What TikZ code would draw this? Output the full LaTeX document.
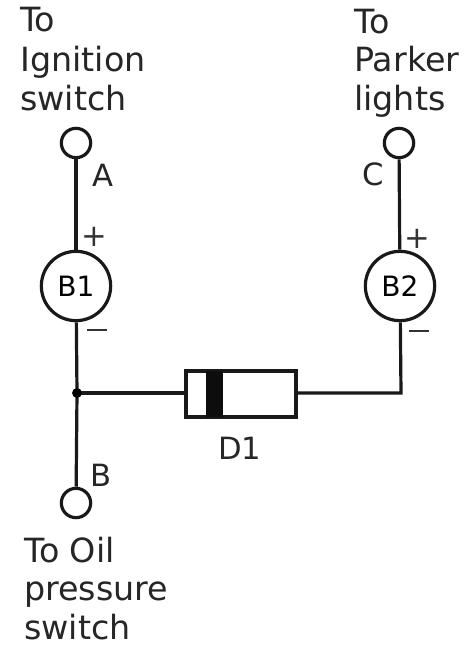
\documentclass[tikz,border=0pt]{standalone}
\usepackage{fontspec}
\setmainfont{DejaVu Sans}
\tikzset{
 wire/.style={line width=2.4pt,black!90},
 term/.style={circle,draw=black!90,line width=2.4pt,fill=white,minimum size=22pt,inner sep=0pt},
 bulb/.style={circle,draw=black!90,line width=2.4pt,fill=white,minimum size=52pt,inner sep=0pt,font=\fontsize{21}{24}\selectfont},
 lab/.style={inner sep=0pt,anchor=base west,text=black!85,font=\fontsize{25}{28}\selectfont},
 tag/.style={inner sep=0pt,anchor=base west,text=black!85,font=\fontsize{23}{26}\selectfont},
 sign/.style={inner sep=0pt,text=black!80,font=\fontsize{23}{25}\selectfont},
}
\begin{document}
\begin{tikzpicture}[x=1pt,y=-1pt]
\useasboundingbox (0,0) rectangle (354.75,483.75);
\begin{scope}[x=0.75pt,y=-0.75pt]
\fill[white] (0,0) rectangle (473,645);
\node[term] (tA) at (76,143) {};
\node[term] (tC) at (399,143) {};
\node[term] (tB) at (76,503) {};
\node[bulb] (B1) at (76,286) {B1};
\node[bulb] (B2) at (400,286) {B2};
\coordinate (J) at (77,393);
\coordinate (K) at (401,393);
\draw[line width=2.4pt,black!90,fill=white] (186,371) rectangle (296,417);
\fill[black!95] (206,371) rectangle (223,417);
\coordinate (DL) at (186,393);
\coordinate (DR) at (296,393);
\draw[wire] (tA) -- (B1);
\draw[wire] (tC) -- (B2);
\draw[wire] (B1) -- (J) -- (tB);
\draw[wire] (J) -- (DL);
\draw[wire] (DR) -- (K) -- (B2);
\fill[black] (J) circle (3.7pt);
\node[lab] at (20,32) {To};
\node[lab] at (20,72) {Ignition};
\node[lab] at (20,111) {switch};
\node[lab] at (354,34) {To};
\node[lab] at (354,72) {Parker};
\node[lab] at (354,111) {lights};
\node[tag] at (92,187) {A};
\node[tag] at (362,186) {C};
\node[tag] at (90,486) {B};
\node[tag] at (218,459) {D1};
\node[lab] at (24,562) {To Oil};
\node[lab] at (24,600) {pressure};
\node[lab] at (24,639) {switch};
\node[sign] at (94,237) {+};
\node[sign] at (417,239) {+};
\node[sign] at (97,330) {\rule{15pt}{1.4pt}};
\node[sign] at (419,331) {\rule{15pt}{1.4pt}};
\end{scope}
\end{tikzpicture}
\end{document}
